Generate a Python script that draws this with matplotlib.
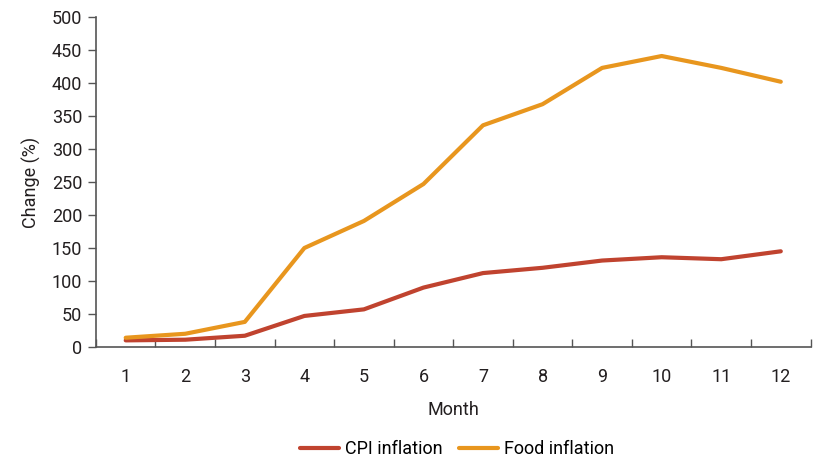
import numpy as np
import matplotlib.pyplot as plt
from matplotlib.ticker import FixedLocator

months = list(range(1, 13))
cpi_inflation = [10, 11, 17, 47, 57, 90, 112, 120, 131, 136, 133, 145]
food_inflation = [14, 20, 38, 150, 191, 247, 336, 368, 423, 441, 423, 402]

CPI_COLOR = '#C0432F'
FOOD_COLOR = '#E8961E'
AXIS_COLOR = '#555555'
TEXT_COLOR = '#231F20'

plt.rcParams['font.family'] = ['Roboto', 'DejaVu Sans']

fig = plt.figure(figsize=(8.13, 4.62), dpi=100)
ax = fig.add_axes([0.118, 0.249, 0.879, 0.714])

ax.plot(months, cpi_inflation, color=CPI_COLOR, lw=3, label='CPI inflation', solid_capstyle='round')
ax.plot(months, food_inflation, color=FOOD_COLOR, lw=3, label='Food inflation', solid_capstyle='round')

ax.set_xlim(0.5, 12.5)
ax.set_ylim(0, 500)
ax.set_yticks(np.arange(0, 501, 50))
ax.set_xticks(months)
ax.xaxis.set_minor_locator(FixedLocator(np.arange(0.5, 13, 1)))
ax.tick_params(axis='x', which='major', length=0, pad=15, labelsize=13, colors=TEXT_COLOR)
ax.tick_params(axis='x', which='minor', length=6, width=1, color=AXIS_COLOR, direction='in')
ax.tick_params(axis='y', length=6, width=1, color=AXIS_COLOR, labelsize=13, labelcolor=TEXT_COLOR, pad=4)

for side in ['top', 'right']:
    ax.spines[side].set_visible(False)
for side in ['left', 'bottom']:
    ax.spines[side].set_color(AXIS_COLOR)
    ax.spines[side].set_linewidth(1.2)

ax.set_xlabel('Month', fontsize=13, color=TEXT_COLOR, labelpad=11)
ax.set_ylabel('Change (%)', fontsize=13, color=TEXT_COLOR, labelpad=8)

ax.legend(loc='center', bbox_to_anchor=(0.505, -0.31), ncol=2, frameon=False,
          fontsize=13, handlelength=2.2, columnspacing=0.9, handletextpad=0.3)

fig.savefig('out.png', dpi=100, facecolor='white')
